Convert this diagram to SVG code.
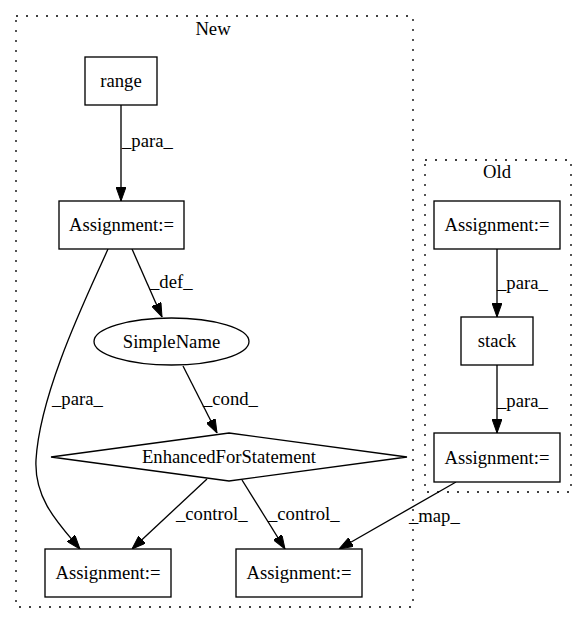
<svg xmlns="http://www.w3.org/2000/svg" width="587" height="624" viewBox="0 0 587 624">
<style>
text{font-family:"Liberation Serif","Times New Roman",serif;font-size:18.67px;fill:#000}
.n{text-anchor:middle}
.shape{fill:#fff;stroke:#000;stroke-width:1.33}
.cl{fill:none;stroke:#000;stroke-width:1.33;stroke-dasharray:2,8}
.e{fill:none;stroke:#000;stroke-width:1.33;marker-end:url(#ah)}
</style>
<defs>
<marker id="ah" markerUnits="userSpaceOnUse" viewBox="0 0 14 10" refX="14" refY="5" markerWidth="14" markerHeight="10" orient="auto">
<path d="M0,0 L14,5 L0,10 z" fill="#000" stroke="#000" stroke-width="1"/>
</marker>
</defs>
<rect width="587" height="624" fill="#fff"/>
<g id="cluster_new">
<rect class="cl" x="16" y="16" width="397" height="591"/>
<text class="n" x="213" y="35">New</text>
</g>
<g id="cluster_old">
<rect class="cl" x="425" y="160" width="146" height="332"/>
<text class="n" x="497" y="178">Old</text>
</g>
<g id="connectors">
<path class="e" d="M121,105 L121,201"/>
<text x="122" y="147">_para_</text>
<path class="e" d="M132,249 L162,317"/>
<text x="150" y="288">_def_</text>
<path class="e" d="M108,249 C90,290 40,390 36,460 C34,500 60,525 80,549"/>
<text x="52" y="405">_para_</text>
<path class="e" d="M183,366 L217,433"/>
<text x="203" y="405">_cond_</text>
<path class="e" d="M207,479 L132,549"/>
<text x="176" y="520">_control_</text>
<path class="e" d="M242,480 L285,549"/>
<text x="268" y="520">_control_</text>
<path class="e" d="M456,482 L339,549"/>
<text x="409" y="522">_map_</text>
<path class="e" d="M497,249 L497,317"/>
<text x="497" y="289">_para_</text>
<path class="e" d="M497,365 L497,433"/>
<text x="497" y="407">_para_</text>
</g>
<g id="range">
<rect class="shape" x="85" y="57" width="72" height="48"/>
<text class="n" x="121" y="87">range</text>
</g>
<g id="assign_new_top">
<rect class="shape" x="59" y="201" width="125" height="48"/>
<text class="n" x="121.5" y="231">Assignment:=</text>
</g>
<g id="simplename">
<ellipse class="shape" cx="171.5" cy="341.5" rx="77.5" ry="23.5"/>
<text class="n" x="171.5" y="348">SimpleName</text>
</g>
<g id="enhancedfor">
<polygon class="shape" points="229,433 407,457 229,481 51,457"/>
<text class="n" x="229" y="463">EnhancedForStatement</text>
</g>
<g id="assign_bottom_left">
<rect class="shape" x="45" y="549" width="126" height="48"/>
<text class="n" x="108" y="579">Assignment:=</text>
</g>
<g id="assign_bottom_mid">
<rect class="shape" x="236" y="549" width="126" height="48"/>
<text class="n" x="299" y="579">Assignment:=</text>
</g>
<g id="assign_old_top">
<rect class="shape" x="434" y="201" width="126" height="48"/>
<text class="n" x="497" y="231">Assignment:=</text>
</g>
<g id="stack">
<rect class="shape" x="461" y="317" width="72" height="48"/>
<text class="n" x="497" y="347">stack</text>
</g>
<g id="assign_old_bottom">
<rect class="shape" x="434" y="433" width="126" height="49"/>
<text class="n" x="497" y="464">Assignment:=</text>
</g>
</svg>
